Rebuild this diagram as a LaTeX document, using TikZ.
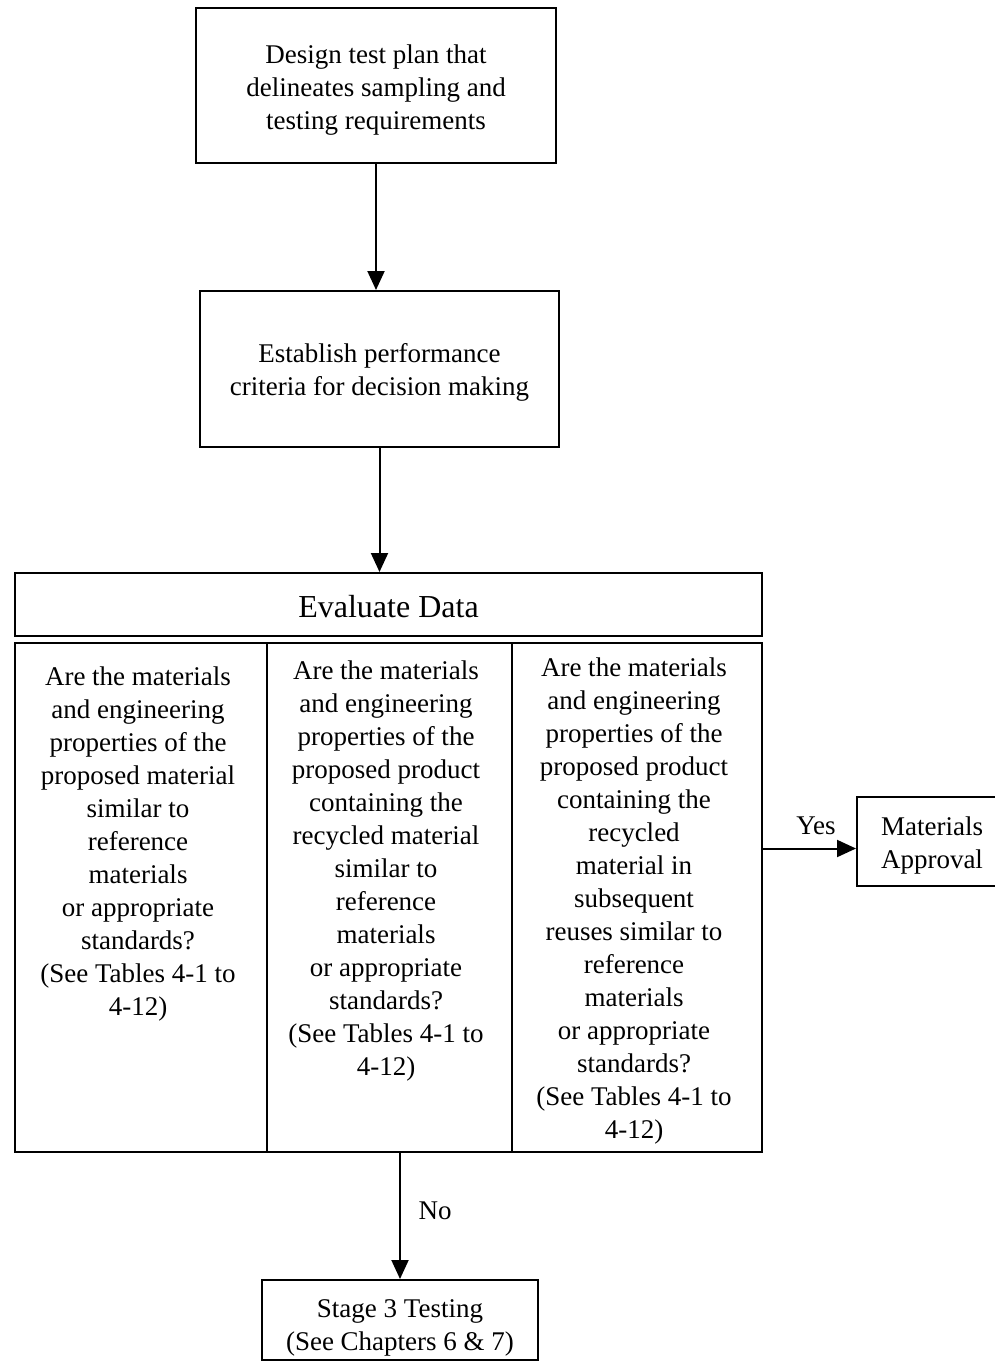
\documentclass[tikz,border=0pt]{standalone}
\usepackage{fontspec}
\setmainfont{Liberation Serif}
\usetikzlibrary{arrows.meta,calc}
\newcommand{\topgap}[1]{\rule{0pt}{#1}}
\begin{document}
\begin{tikzpicture}[x=1pt,y=-1pt,
  box/.style={draw,line width=2pt,inner sep=0pt,align=center,font=\fontsize{27}{33}\selectfont},
  txt/.style={inner sep=0pt,align=center,font=\fontsize{27}{33}\selectfont},
  arr/.style={line width=2pt,-{Triangle[length=19pt,width=17pt]}}]
\useasboundingbox (0,0) rectangle (994,1362);
\fill[white] (0,0) rectangle (994,1362);
\node[box,minimum width=360pt,minimum height=155pt] (b1) at (376,85.5) {\topgap{27pt}Design test plan that\\delineates sampling and\\testing requirements};
\node[box,minimum width=359pt,minimum height=156pt] (b2) at (379.5,369) {\topgap{26pt}Establish performance\\criteria for decision making};
\node[box,minimum width=747pt,minimum height=63pt,font=\fontsize{32}{38}\selectfont] (hdr) at (388.5,604.5) {\topgap{27pt}Evaluate Data};
\node[box,minimum width=252pt,minimum height=509pt] (c1) at (141,897.5) {};
\node[box,minimum width=245pt,minimum height=509pt] (c2) at (389.5,897.5) {};
\node[box,minimum width=250pt,minimum height=509pt] (c3) at (637,897.5) {};
\node[txt,anchor=north] (t1) at (138,667) {Are the materials\\and engineering\\properties of the\\proposed material\\similar to\\reference\\materials\\or appropriate\\standards?\\(See Tables 4-1 to\\4-12)};
\node[txt,anchor=north] (t2) at (386,661) {Are the materials\\and engineering\\properties of the\\proposed product\\containing the\\recycled material\\similar to\\reference\\materials\\or appropriate\\standards?\\(See Tables 4-1 to\\4-12)};
\node[txt,anchor=north] (t3) at (634,658) {Are the materials\\and engineering\\properties of the\\proposed product\\containing the\\recycled\\material in\\subsequent\\reuses similar to\\reference\\materials\\or appropriate\\standards?\\(See Tables 4-1 to\\4-12)};
\node[box,minimum width=150pt,minimum height=89pt] (ma) at (932,841.5) {\topgap{26pt}Materials\\Approval};
\node[box,minimum width=276pt,minimum height=80pt] (s3) at (400,1320) {\topgap{34pt}Stage 3 Testing\\(See Chapters 6 \& 7)};
\node[txt] (yes) at (816,826) {Yes};
\node[txt] (no) at (435,1211) {No};
\coordinate (ya) at ([yshift=-7pt]ma.west);
\draw[arr] (b1.south) -- (b1.south |- b2.north);
\draw[arr] (b2.south) -- (b2.south |- hdr.north);
\draw[arr] (c3.east |- ya) -- (ya);
\draw[arr] (c2.south -| s3.north) -- (s3.north);
\end{tikzpicture}
\end{document}
